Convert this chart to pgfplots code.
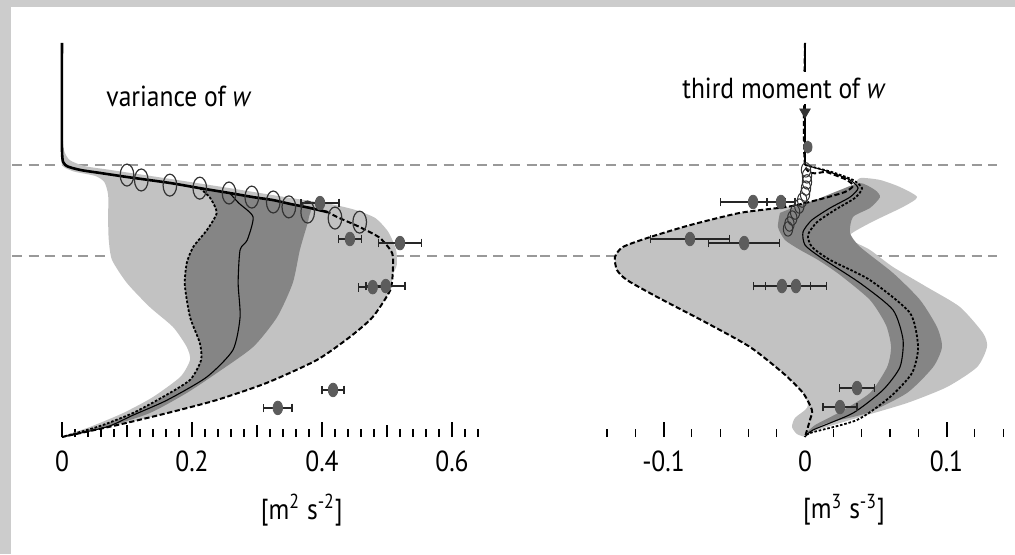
\documentclass[border=0pt]{standalone}
\usepackage{fontspec}
\setmainfont[FakeStretch=0.88]{PT Sans}
\usepackage{pgfplots}
\usepackage{pgfplotstable}
\pgfplotsset{compat=1.18}
\definecolor{lgray}{gray}{0.76}
\definecolor{dgray}{gray}{0.52}
\definecolor{mk}{gray}{0.36}
\definecolor{refl}{gray}{0.6}
\definecolor{bgc}{gray}{0.80}
\newcommand\fs{\fontsize{14.5pt}{17pt}\selectfont}

% ---------- left panel: variance of w ----------
\pgfplotstableread{
x y
0 1.147
0.003 1.055
0.012 1.018
0.035 0.996
0.074 0.982
0.166 0.949
0.258 0.915
0.351 0.879
0.412 0.857
0.451 0.835
0.482 0.805
0.502 0.754
0.514 0.688
0.515 0.632
0.509 0.596
0.505 0.540
0.478 0.441
0.443 0.368
0.392 0.283
0.315 0.199
0.238 0.136
0.162 0.088
0.085 0.044
0 0
0.043 0.037
0.094 0.088
0.140 0.147
0.182 0.221
0.197 0.283
0.192 0.331
0.171 0.404
0.135 0.478
0.100 0.566
0.077 0.651
0.072 0.724
0.071 0.798
0.071 0.890
0.065 0.938
0.051 0.960
0.020 0.975
0.005 0.989
0 1.0
}\lgL
\pgfplotstableread{
x y
0.215 0.910
0.258 0.897
0.294 0.882
0.325 0.871
0.351 0.857
0.382 0.842
0.380 0.810
0.378 0.787
0.366 0.688
0.355 0.566
0.331 0.441
0.294 0.331
0.238 0.235
0.192 0.162
0.135 0.088
0.069 0.037
0 0
0.058 0.040
0.109 0.088
0.155 0.147
0.197 0.210
0.214 0.283
0.212 0.346
0.197 0.441
0.189 0.559
0.192 0.640
0.202 0.699
0.223 0.761
0.238 0.824
0.228 0.879
}\dgL
\pgfplotstableread{
x y
0 1.449
0 1.055
0.005 1.0
0.028 0.982
0.058 0.971
0.1 0.956
0.166 0.934
0.212 0.915
0.258 0.897
0.294 0.882
0.325 0.871
0.351 0.857
0.382 0.842
0.408 0.827
}\topL
\pgfplotstableread{
x y
0.382 0.842
0.408 0.827
0.423 0.809
0.458 0.772
0.489 0.732
0.508 0.676
0.509 0.614
0.505 0.540
0.478 0.441
0.443 0.368
0.392 0.283
0.315 0.199
0.238 0.136
0.162 0.088
0.085 0.044
0 0
}\outL
\pgfplotstableread{
x y
0.258 0.897
0.272 0.860
0.294 0.809
0.285 0.724
0.274 0.688
0.271 0.566
0.274 0.441
0.263 0.320
0.223 0.221
0.162 0.136
0.109 0.080
0.069 0.037
0 0
}\solL
\pgfplotstableread{
x y
0.212 0.915
0.228 0.879
0.238 0.824
0.223 0.761
0.202 0.699
0.192 0.640
0.189 0.559
0.197 0.441
0.212 0.346
0.214 0.283
0.197 0.210
0.155 0.147
0.109 0.088
0.058 0.040
0 0
}\dotL
\pgfplotstableread{
x y
0.100 0.963
0.122 0.945
0.166 0.926
0.212 0.915
0.257 0.897
0.292 0.882
0.325 0.864
0.349 0.846
0.378 0.827
0.420 0.805
0.458 0.790
}\cirL
\pgfplotstableread{
x y ex
0.397 0.860 0.029
0.443 0.728 0.018
0.520 0.713 0.033
0.478 0.551 0.022
0.498 0.555 0.030
0.417 0.173 0.017
0.332 0.107 0.022
}\fL

% ---------- right panel: third moment of w ----------
\pgfplotstableread{
x y
0 0
-0.0057 0.011
-0.0092 0.037
-0.0071 0.070
0 0.099
0.0021 0.118
-0.0014 0.162
-0.0155 0.235
-0.0389 0.331
-0.0693 0.419
-0.1046 0.515
-0.1258 0.577
-0.1329 0.614
-0.1343 0.662
-0.1286 0.699
-0.1095 0.735
-0.0813 0.779
-0.0459 0.824
-0.0127 0.846
0 0.860
0.0141 0.879
0.0283 0.901
0.0339 0.923
0.0389 0.952
0.0530 0.945
0.0671 0.919
0.0792 0.882
0.0693 0.846
0.0459 0.787
0.0304 0.735
0.0459 0.688
0.0622 0.625
0.0862 0.551
0.1095 0.478
0.1258 0.382
0.1286 0.331
0.1216 0.257
0.1004 0.184
0.0721 0.125
0.0389 0.0735
0.0085 0.026
}\lgR
\pgfplotstableread{
x y
-0.0177 0.824
-0.0191 0.772
-0.0141 0.724
-0.0035 0.688
0.0092 0.651
0.0247 0.596
0.0459 0.504
0.0572 0.412
0.0608 0.331
0.0580 0.257
0.0459 0.162
0.0247 0.092
0.0071 0.044
0.0021 0.018
0.0155 0.051
0.0438 0.088
0.0721 0.162
0.0905 0.257
0.0968 0.331
0.0933 0.404
0.0813 0.504
0.0622 0.603
0.0389 0.699
0.0318 0.750
0.0339 0.809
0.0459 0.842
0.0530 0.882
0.0495 0.908
0.0389 0.934
0.0247 0.908
0.0071 0.871
-0.0071 0.846
}\dgR
\pgfplotstableread{
x y
0 1.449
0 1.0
0.0155 0.974
0.0297 0.945
0.0339 0.923
0.0283 0.901
0.0141 0.879
0 0.860
-0.0127 0.846
-0.0459 0.824
-0.0813 0.779
-0.1095 0.735
-0.1286 0.699
-0.1343 0.662
-0.1329 0.614
-0.1258 0.577
-0.1046 0.515
-0.0693 0.419
-0.0389 0.331
-0.0155 0.235
-0.0014 0.162
0.0049 0.099
0.0035 0.0625
0 0
}\outR
\pgfplotstableread{
x y
0 1.0
0.0177 0.974
0.0318 0.945
0.0375 0.915
0.0318 0.882
0.0177 0.842
0.0049 0.798
-0.0014 0.754
0 0.706
0.0106 0.662
0.0389 0.566
0.0622 0.467
0.0693 0.357
0.0671 0.257
0.0551 0.173
0.0339 0.088
0.0057 0.026
0 0
}\solR
\pgfplotstableread{
x y
0 1.0
0.0191 0.974
0.0339 0.945
0.0403 0.915
0.0353 0.879
0.0212 0.835
0.0085 0.790
0.0021 0.743
0.0049 0.699
0.0177 0.651
0.0459 0.577
0.0742 0.456
0.0799 0.331
0.0756 0.235
0.0601 0.147
0.0367 0.0625
0.0035 0.0147
0 0
}\dotR
\pgfplotstableread{
x y
0.0007 0.982
0.0014 0.960
0.0014 0.938
0.0007 0.915
0 0.893
-0.002 0.871
-0.004 0.849
-0.007 0.827
-0.009 0.805
-0.011 0.783
-0.012 0.765
}\cirR
\pgfplotstableread{
x y ex
-0.0367 0.864 0.023
-0.0170 0.864 0.010
-0.0813 0.728 0.028
-0.0430 0.713 0.025
-0.0163 0.555 0.020
-0.0064 0.555 0.0215
0.0368 0.180 0.0124
0.0247 0.110 0.012
}\fR

\pgfplotsset{
  panel/.style={
    scale only axis, height=204pt, ymin=0, ymax=1.5,
    hide y axis, axis x line*=bottom, x axis line style={draw=none},
    tick align=inside, clip=false,
    major tick length=7.5pt, minor tick length=4.2pt,
    every major tick/.append style={line width=1pt, black},
    every minor tick/.append style={line width=0.6pt, black},
    xticklabel style={font=\fs, yshift=-3.5pt},
    /pgf/number format/assume math mode=true,
  },
  light/.style={fill=lgray, draw=none, smooth, tension=0.4},
  dark/.style={fill=dgray, draw=none, smooth, tension=0.4},
  refline/.style={refl, line width=1.2pt, dash pattern=on 5pt off 3.3pt},
  outer/.style={black, line width=1pt, dash pattern=on 2.6pt off 1.3pt, smooth, tension=0.4},
  midl/.style={black, line width=0.55pt, smooth, tension=0.4},
  dotl/.style={black, line width=0.9pt, dash pattern=on 1.3pt off 0.9pt, smooth, tension=0.4},
  thickl/.style={black, line width=1.3pt, smooth, tension=0.4},
  obs/.style={only marks, mark=*, mark size=3.4pt,
    mark options={fill=mk, draw=mk, xscale=0.7},
    error bars/.cd, x dir=both, x explicit,
    error bar style={line width=0.7pt, black!85},
    error mark=|,
    error mark options={line width=0.7pt, black!85, mark size=2.2pt}},
}

\begin{document}
\begin{tikzpicture}
\fill[bgc] (0,0) rectangle (507.5pt,277pt);
\fill[white] (5.5pt,0) rectangle (507.5pt,273.5pt);

\begin{axis}[panel, at={(6pt,58.5pt)}, anchor=south west, width=264pt,
  xmin=-0.0769, xmax=0.7354,
  xtick={0,0.2,0.4,0.6}, xticklabels={0,0.2,0.4,0.6},
  minor xtick={0.02,0.04,0.06,0.08,0.12,0.14,0.16,0.18,0.22,0.24,0.26,0.28,0.32,0.34,0.36,0.38,0.42,0.44,0.46,0.48,0.52,0.54,0.56,0.58,0.62,0.64},
  extra x ticks={0.1,0.3,0.5}, extra x tick labels={},
  extra x tick style={major tick length=6pt, every major tick/.append style={line width=0.8pt}},
]
\addplot[refline] coordinates {(-0.0769,1) (0.7354,1)};
\addplot[refline] coordinates {(-0.0769,0.665) (0.7354,0.665)};
\addplot[light] table {\lgL};
\addplot[dark] table {\dgL};
\addplot[outer] table {\outL};
\addplot[dotl] table {\dotL};
\addplot[midl] table {\solL};
\addplot[thickl] table {\topL};
\addplot[only marks, mark=o, mark size=5.5pt, mark options={xscale=0.62, line width=0.6pt, draw=black!80}] table {\cirL};
\addplot[obs] table[x error=ex] {\fL};
\node[font=\fs] at (axis cs:0.18,1.254) {variance of \textit{w}};
\node[font=\fs] at (axis cs:0.369,-0.268) {[m\textsuperscript{2} s\textsuperscript{-2}]};
\end{axis}

\begin{axis}[panel, at={(270pt,58.5pt)}, anchor=south west, width=235pt,
  xmin=-0.18728, xmax=0.14488,
  xtick={-0.1,0,0.1}, xticklabels={-0.1,0,0.1},
  minor xtick={-0.14,-0.12,-0.08,-0.06,-0.04,-0.02,0.02,0.04,0.06,0.08,0.12,0.14},
]
\addplot[refline] coordinates {(-0.18728,1) (0.1357,1)};
\addplot[refline] coordinates {(-0.18728,0.665) (0.1357,0.665)};
\addplot[light] table {\lgR};
\addplot[dark] table {\dgR};
\addplot[outer] table {\outR};
\addplot[dotl] table {\dotR};
\addplot[midl] table {\solR};
\addplot[black, line width=1.3pt] coordinates {(0,1.449) (0,1.0)};
\addplot[only marks, mark=o, mark size=3.6pt, mark options={xscale=0.65, line width=0.5pt, draw=black!80}] table {\cirR};
\addplot[obs] table[x error=ex] {\fR};
\node[font=\fs, fill=white, inner sep=3pt] at (axis cs:-0.0148,1.283) {third moment of \textit{w}};
\addplot[only marks, mark=triangle*, mark size=3pt, mark options={rotate=180, fill=black!80, draw=black!80}] coordinates {(0,1.195)};
\addplot[only marks, mark=*, mark size=3pt, mark options={xscale=0.7, fill=mk, draw=mk}] coordinates {(0.002,1.066)};
\node[font=\fs] at (axis cs:0.0276,-0.268) {[m\textsuperscript{3} s\textsuperscript{-3}]};
\end{axis}
\pgfresetboundingbox
\useasboundingbox (0,0) rectangle (507.5pt,277pt);
\end{tikzpicture}
\end{document}
